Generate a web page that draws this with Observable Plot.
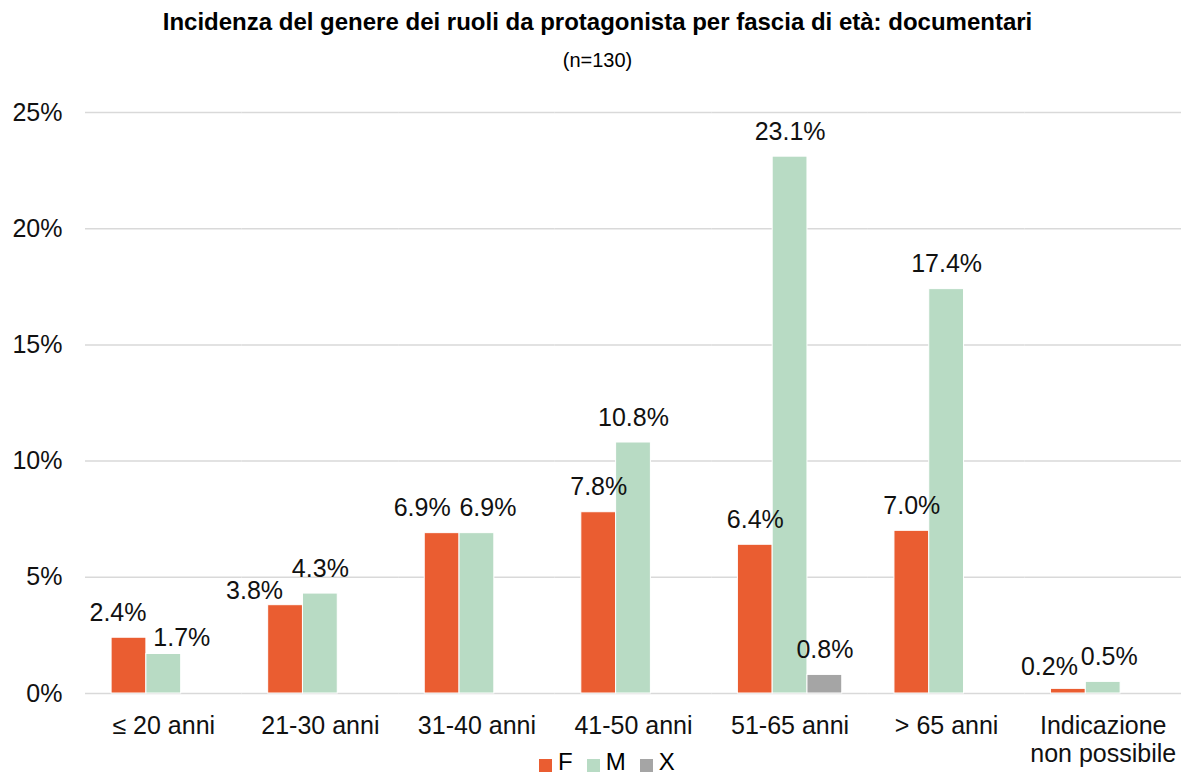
<!DOCTYPE html>
<html>
<head>
<meta charset="utf-8">
<script src="https://cdn.jsdelivr.net/npm/d3@7"></script>
<script src="https://cdn.jsdelivr.net/npm/@observablehq/plot@0.6"></script>
<style>
  body { margin: 0; background: #fff; font-family: "Liberation Sans", Arial, sans-serif; color: #000; }
  #wrap { position: relative; width: 1181px; height: 776px; overflow: hidden; }
  #title { position: absolute; left: 0; width: 1181px; top: 8px; text-align: center; font-weight: bold; font-size: 24px; line-height: 28px; margin-left: 7px; white-space: nowrap; }
  #subtitle { position: absolute; left: 0; width: 1181px; top: 48px; text-align: center; font-size: 20px; line-height: 24px; margin-left: 7px; }
  #chart { position: absolute; left: 0; top: 0; }
  #legend { position: absolute; left: 539px; top: 750px; display: flex; align-items: flex-start; font-size: 24px; line-height: 24px; }
  #legend .item { display: flex; align-items: flex-start; margin-right: 14px; }
  #legend .sw { width: 13px; height: 13px; margin-top: 9px; margin-right: 6px; }
</style>
</head>
<body>
<div id="wrap">
  <div id="chart"></div>
  <div id="title">Incidenza del genere dei ruoli da protagonista per fascia di età: documentari</div>
  <div id="subtitle">(n=130)</div>
  <div id="legend"></div>
</div>
<script>
const categories = ["≤ 20 anni", "21-30 anni", "31-40 anni", "41-50 anni", "51-65 anni", "> 65 anni", "Indicazione\nnon possibile"];
const genders = ["F", "M", "X"];
const valuesF = [2.4, 3.8, 6.9, 7.8, 6.4, 7.0, 0.2];
const valuesM = [1.7, 4.3, 6.9, 10.8, 23.1, 17.4, 0.5];
const valuesX = [0, 0, 0, 0, 0.8, 0, 0];
const yTicks = [0, 5, 10, 15, 20, 25];
const colors = ["#EA5D31", "#B8DBC4", "#A5A5A5"];

// label nudges (layout only) to mimic the reference's label placement
const labelNudge = {
  "≤ 20 anni|F": [-11, 0],
  "≤ 20 anni|M": [18, 9],
  "21-30 anni|F": [-31, 11],
  "31-40 anni|F": [-20, 0],
  "31-40 anni|M": [11, 0],
  "Indicazione\nnon possibile|F": [-19, 3],
  "Indicazione\nnon possibile|M": [6, 0]
};

const series = [valuesF, valuesM, valuesX];
const rows = [];
categories.forEach((c, i) => {
  genders.forEach((g, j) => {
    rows.push({category: c, gender: g, value: series[j][i]});
  });
});
const bars = rows.filter(d => d.value > 0);

const textMarks = bars.map(d => {
  const n = labelNudge[d.category + "|" + d.gender] || [0, 0];
  return Plot.text([d], {
    fx: "category", x: "gender", y: "value",
    text: r => r.value.toFixed(1) + "%",
    dy: -25 + n[1], dx: n[0],
    fontSize: 25, fill: "#111"
  });
});

const chart = Plot.plot({
  width: 1181,
  height: 776,
  marginTop: 112,
  marginBottom: 83,
  marginLeft: 85,
  marginRight: 0,
  style: {fontFamily: "'Liberation Sans', Arial, sans-serif", background: "transparent", overflow: "visible"},
  fx: {domain: categories, paddingInner: 0, paddingOuter: 0, round: false, label: null},
  x: {domain: genders, paddingInner: 0, paddingOuter: 0.75, round: false, axis: null},
  y: {domain: [0, 25], label: null},
  color: {domain: genders, range: colors},
  marks: [
    Plot.ruleY(yTicks, {stroke: "#d9d9d9", strokeWidth: 1.5, insetRight: 0}),
    Plot.axisY(yTicks, {tickSize: 0, tickPadding: 23, fontSize: 25, tickFormat: d => d + "%", label: null, fill: "#111"}),
    Plot.axisFx({anchor: "bottom", tickSize: 0, tickPadding: 21, fontSize: 25, lineHeight: 1.12, label: null, fill: "#111"}),
    Plot.barY(bars, {fx: "category", x: "gender", y: "value", fill: "gender", stroke: "#fff", strokeWidth: 1}),
    ...textMarks
  ]
});
document.getElementById("chart").appendChild(chart);

const legend = document.getElementById("legend");
genders.forEach((g, j) => {
  const item = document.createElement("div");
  item.className = "item";
  const sw = document.createElement("div");
  sw.className = "sw";
  sw.style.background = colors[j];
  const lab = document.createElement("span");
  lab.textContent = g;
  item.appendChild(sw);
  item.appendChild(lab);
  legend.appendChild(item);
});
</script>
</body>
</html>
